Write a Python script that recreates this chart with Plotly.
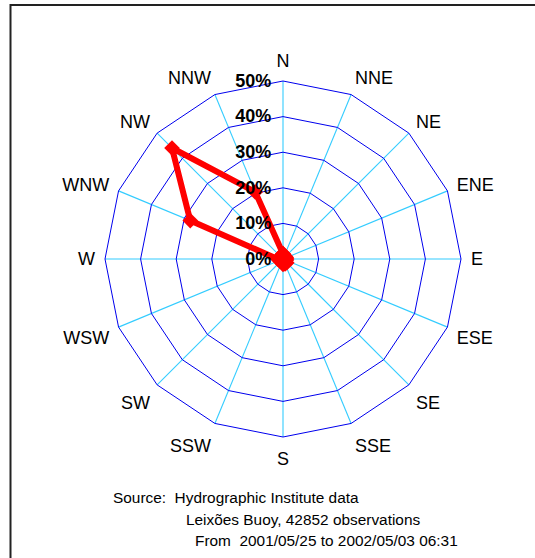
import plotly.graph_objects as go

directions = ["N", "NNE", "NE", "ENE", "E", "ESE", "SE", "SSE",
              "S", "SSW", "SW", "WSW", "W", "WNW", "NW", "NNW"]
frequency = [1.5, 1.0, 1.0, 1.0, 1.0, 1.0, 1.5, 1.5,
             1.5, 1.0, 1.0, 1.0, 1.5, 28.2, 44.1, 20.4]
radial_ticks = [0, 10, 20, 30, 40, 50]
radial_labels = ["0%", "10%", "20%", "30%", "40%", "50%"]
notes = ["Source:  Hydrographic Institute data",
         "Leixões Buoy, 42852 observations",
         "From  2001/05/25 to 2002/05/03 06:31"]

W, H = 535, 558
cx, cy, R = 283, 259, 178

fig = go.Figure()
fig.add_trace(go.Scatterpolar(
    r=frequency + frequency[:1],
    theta=directions + directions[:1],
    mode="lines+markers",
    line=dict(color="#ff0000", width=6),
    marker=dict(symbol="diamond", size=12, color="#ff0000"),
    showlegend=False,
    hoverinfo="skip",
))

fig.update_layout(
    width=W, height=H,
    margin=dict(l=0, r=0, t=0, b=0),
    paper_bgcolor="white",
    font=dict(family="Liberation Sans, Arial, sans-serif", color="black"),
    polar=dict(
        domain=dict(x=[(cx - R) / W, (cx + R) / W],
                    y=[(H - cy - R) / H, (H - cy + R) / H]),
        bgcolor="white",
        gridshape="linear",
        angularaxis=dict(
            type="category",
            categoryorder="array", categoryarray=directions,
            direction="clockwise", rotation=90,
            showgrid=True, gridcolor="#33ccff", gridwidth=1.1,
            showline=True, linecolor="#0000ee", linewidth=1,
            ticks="outside", ticklen=6, tickcolor="rgba(0,0,0,0)",
            tickfont=dict(size=18, color="black"),
        ),
        radialaxis=dict(
            range=[0, 50], angle=90, side="counterclockwise",
            tickvals=radial_ticks, ticktext=radial_labels, tickangle=90,
            showgrid=True, gridcolor="#0000ee", gridwidth=1,
            showline=False, ticks="outside", ticklen=5, tickcolor="rgba(0,0,0,0)",
            tickfont=dict(size=18, color="black",
                          family="Liberation Sans, Arial, sans-serif", weight="bold"),
        ),
    ),
    shapes=[
        dict(type="rect", xref="paper", yref="paper", layer="above",
             x0=10.5 / W, x1=1 + 20 / W, y0=-20 / H, y1=1 - 5 / H,
             line=dict(color="#222222", width=2)),
    ],
    annotations=[
        dict(text=notes[0], x=111 / W, y=1 - 497 / H, xref="paper", yref="paper",
             xanchor="left", yanchor="middle", showarrow=False, font=dict(size=15.4)),
        dict(text=notes[1], x=184 / W, y=1 - 519 / H, xref="paper", yref="paper",
             xanchor="left", yanchor="middle", showarrow=False, font=dict(size=15.4)),
        dict(text=notes[2], x=193 / W, y=1 - 540 / H, xref="paper", yref="paper",
             xanchor="left", yanchor="middle", showarrow=False, font=dict(size=15.4)),
    ],
)

fig.write_html("out.html",
               config={"displayModeBar": False, "staticPlot": True},
               post_script="document.body.style.margin='0px';")
